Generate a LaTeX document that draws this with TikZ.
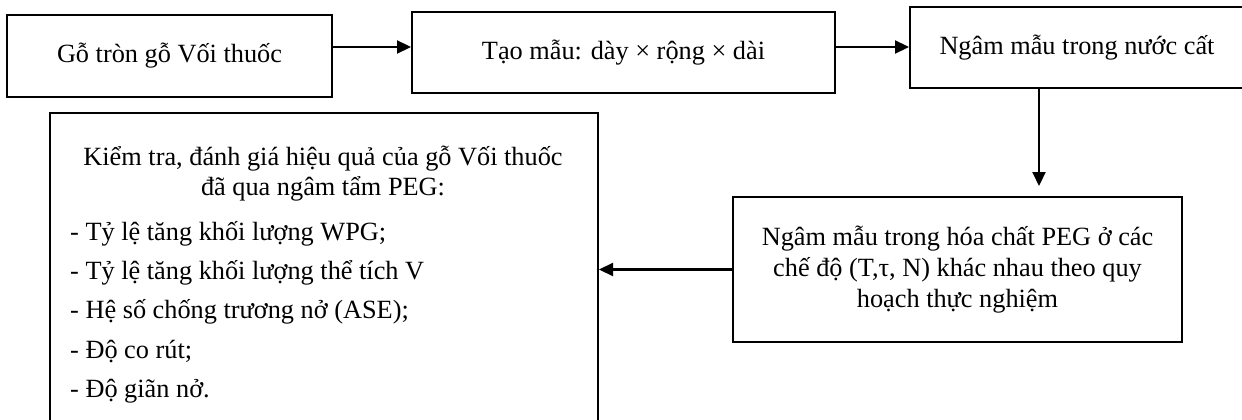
\documentclass[tikz,border=0pt]{standalone}
\usepackage{fontspec}
\setmainfont{Liberation Serif}
\usetikzlibrary{arrows.meta}
\begin{document}
\begin{tikzpicture}[x=1pt,y=-1pt,
  font=\fontsize{26.3}{31}\selectfont,
  box/.style={draw, line width=2pt, inner sep=0pt, align=center},
  conn/.style={line width=2.2pt, -{Triangle[length=14pt,width=13pt]}},
  txt/.style={inner sep=0pt}]
\useasboundingbox (0,0) rectangle (1242,420);
\clip (0,0) rectangle (1242,420);
% boxes
\node[box, minimum width=325pt, minimum height=82pt] (b1) at (169.5,56) {Gỗ tròn gỗ Vối thuốc};
\node[box, minimum width=423pt, minimum height=81pt] (b2) at (623.5,52.5) {Tạo mẫu: dày × rộng × dài};
\node[box, minimum width=334pt, minimum height=81pt] (b3) at (1077,47.5) {Ngâm mẫu trong nước cất};
\node[box, minimum width=449pt, minimum height=145pt] (b4) at (957.5,269.5) {Ngâm mẫu trong hóa chất PEG ở các\\chế độ (T,τ, N) khác nhau theo quy\\hoạch thực nghiệm};
\node[box, minimum width=548pt, minimum height=330pt, anchor=north west] (b5) at (49,112) {};
% texts of the evaluation box
\node[txt, anchor=base] (t1) at (323,165) {Kiểm tra, đánh giá hiệu quả của gỗ Vối thuốc};
\node[txt, anchor=base] (t2) at (323,195) {đã qua ngâm tẩm PEG:};
\node[txt, anchor=base west] (l1) at (70,240) {- Tỷ lệ tăng khối lượng WPG;};
\node[txt, anchor=base west] (l2) at (70,279) {- Tỷ lệ tăng khối lượng thể tích V};
\node[txt, anchor=base west] (l3) at (70,318) {- Hệ số chống trương nở (ASE);};
\node[txt, anchor=base west] (l4) at (70,358) {- Độ co rút;};
\node[txt, anchor=base west] (l5) at (70,397) {- Độ giãn nở.};
% connectors
\coordinate (h) at (0,47);
\coordinate (v) at (1039,186);
\draw[conn] (b1.east |- h) -- (b2.west |- h);
\draw[conn] (b2.east |- h) -- (b3.west |- h);
\draw[conn] (b3.south -| v) -- (v);
\draw[conn] (b4.west) -- (b4.west -| b5.east);
\end{tikzpicture}
\end{document}
